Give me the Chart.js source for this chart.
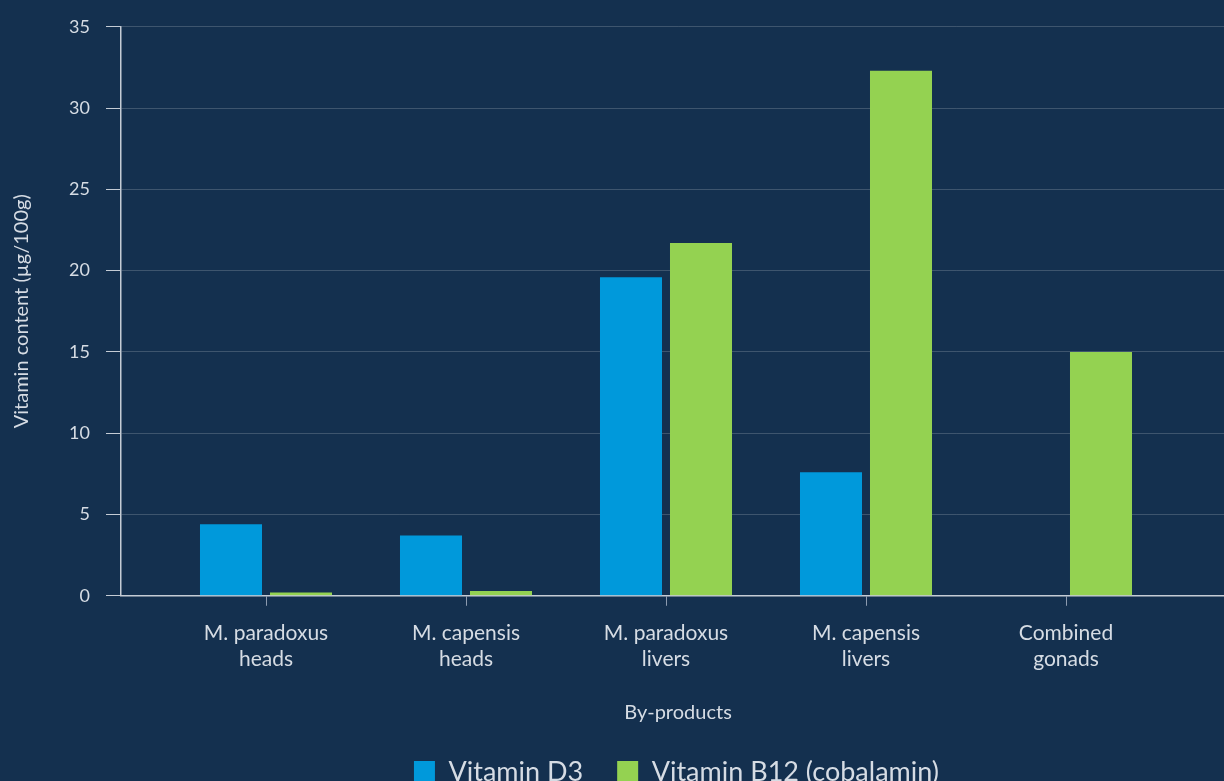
<!DOCTYPE html>
<html>
<head>
<meta charset="utf-8">
<script src="https://cdn.jsdelivr.net/npm/chart.js@4/dist/chart.umd.min.js"></script>
<style>
  html, body { margin: 0; padding: 0; background: #14304f; overflow: hidden; }
  #wrap { width: 1224px; height: 781px; overflow: hidden; }
  canvas { display: block; }
</style>
</head>
<body>
<div id="wrap">
  <canvas id="grafico" width="1352" height="796"></canvas>
</div>
<script>
// datos (µg/100g)
const categorias = [
  ["M. paradoxus", "heads"],
  ["M. capensis", "heads"],
  ["M. paradoxus", "livers"],
  ["M. capensis", "livers"],
  ["Combined", "gonads"]
];
const vitaminaD3 = [4.4, 3.7, 19.6, 7.6, null];
const vitaminaB12 = [0.2, 0.3, 21.7, 32.3, 15.0];
const ticksY = [0, 5, 10, 15, 20, 25, 30, 35];

const textoClaro = "#d6dce4";
const fuente = "Lato, 'Open Sans', sans-serif";

// el eje x es lineal para poder dejar el hueco a la izquierda del primer grupo
const puntos = serie => serie.map((v, i) => ({ x: i, y: v }));

// la leyenda va centrada en todo el lienzo, no en el area del grafico
const moverLeyenda = {
  id: "moverLeyenda",
  afterLayout(chart) {
    chart.legend.left += 59;
    chart.legend.right += 59;
  }
};

new Chart(document.getElementById("grafico"), {
  type: "bar",
  data: {
    datasets: [
      {
        label: "Vitamin D3",
        data: puntos(vitaminaD3),
        backgroundColor: "#0099db"
      },
      {
        label: "Vitamin B12 (cobalamin)",
        data: puntos(vitaminaB12),
        backgroundColor: "#94d251"
      }
    ]
  },
  options: {
    responsive: false,
    animation: false,
    categoryPercentage: 0.7,
    barPercentage: 0.886,
    layout: { padding: { top: 26, right: 117, left: 0, bottom: 0 } },
    scales: {
      x: {
        type: "linear",
        offset: false,
        min: -0.725,
        max: 4.845,
        afterBuildTicks: s => {
          s.ticks = categorias.map((c, i) => ({ value: i }));
        },
        ticks: {
          color: textoClaro,
          font: { family: fuente, size: 21, lineHeight: 1.22 },
          padding: 15,
          maxRotation: 0,
          autoSkip: false,
          callback: v => categorias[v]
        },
        grid: {
          offset: false,
          drawOnChartArea: false,
          tickLength: 10,
          color: "#8d9bb0"
        },
        border: { color: "#c5ccd5", width: 1.5 },
        title: {
          display: true,
          text: "By-products",
          color: textoClaro,
          font: { family: fuente, size: 20 },
          padding: { top: 14, bottom: 0 }
        }
      },
      y: {
        min: 0,
        max: 35,
        afterBuildTicks: s => { s.ticks = ticksY.map(v => ({ value: v })); },
        afterFit: s => { s.width = 121; },
        ticks: {
          color: textoClaro,
          font: { family: fuente, size: 18 },
          padding: 16
        },
        grid: {
          color: "rgba(255,255,255,0.18)",
          tickColor: "#c5ccd5",
          tickLength: 15
        },
        border: { color: "#c5ccd5", width: 1.5 },
        title: {
          display: true,
          text: "Vitamin content (µg/100g)",
          color: textoClaro,
          font: { family: fuente, size: 20 },
          padding: { top: 10, bottom: 0 }
        }
      }
    },
    plugins: {
      legend: {
        position: "bottom",
        labels: {
          color: textoClaro,
          font: { family: fuente, size: 27 },
          boxWidth: 21,
          boxHeight: 23,
          padding: 34
        }
      },
      tooltip: { enabled: false }
    }
  },
  plugins: [moverLeyenda]
});
</script>
</body>
</html>
